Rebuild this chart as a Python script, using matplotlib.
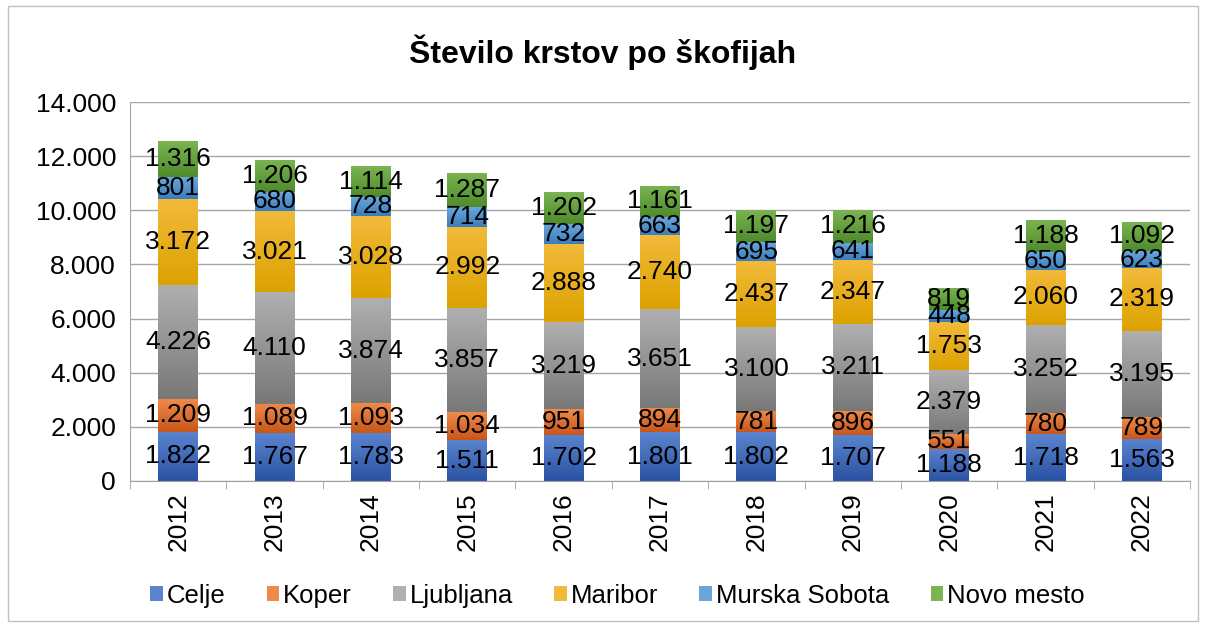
import numpy as np
import matplotlib
matplotlib.use("Agg")
import matplotlib.pyplot as plt
from matplotlib.colors import LinearSegmentedColormap
from matplotlib.patches import Rectangle

plt.rcParams['font.family'] = ['Liberation Sans', 'DejaVu Sans']

years = ["2012", "2013", "2014", "2015", "2016", "2017", "2018", "2019", "2020", "2021", "2022"]
celje = [1822, 1767, 1783, 1511, 1702, 1801, 1802, 1707, 1188, 1718, 1563]
koper = [1209, 1089, 1093, 1034, 951, 894, 781, 896, 551, 780, 789]
ljubljana = [4226, 4110, 3874, 3857, 3219, 3651, 3100, 3211, 2379, 3252, 3195]
maribor = [3172, 3021, 3028, 2992, 2888, 2740, 2437, 2347, 1753, 2060, 2319]
murska_sobota = [801, 680, 728, 714, 732, 663, 695, 641, 448, 650, 623]
novo_mesto = [1316, 1206, 1114, 1287, 1202, 1161, 1197, 1216, 819, 1188, 1092]

series_names = ["Celje", "Koper", "Ljubljana", "Maribor", "Murska Sobota", "Novo mesto"]
series = [celje, koper, ljubljana, maribor, murska_sobota, novo_mesto]
# (top colour, bottom colour) for the vertical gradient
grads = [("#5B84CF", "#2A52A3"),
         ("#EE8A4A", "#C8561A"),
         ("#B0B0B0", "#787878"),
         ("#F2BA3A", "#DDA200"),
         ("#6AA6DC", "#3A7DBD"),
         ("#7BB552", "#4F8A2C")]


def fmt(v):
    return "{:,}".format(int(v)).replace(",", ".")


fig = plt.figure(figsize=(12.06, 6.27), dpi=100)
ax = fig.add_axes([0.1078, 0.2329, 0.8790, 0.6044])

x = np.arange(len(years))
width = 0.415
bottom = np.zeros(len(years))
for name, vals, (ctop, cbot) in zip(series_names, series, grads):
    vals = np.array(vals)
    bars = ax.bar(x, vals, width, bottom=bottom, color=cbot, label=name, zorder=2)
    cmap = LinearSegmentedColormap.from_list(name, [cbot, ctop])
    grad = np.linspace(0, 1, 100).reshape(-1, 1)
    for b in bars:
        bx, by = b.get_x(), b.get_y()
        im = ax.imshow(grad, cmap=cmap, origin="lower", aspect="auto",
                       extent=[bx, bx + b.get_width(), by, by + b.get_height()], zorder=2.5)
        im.set_clip_path(b)
    for xi, v, b0 in zip(x, vals, bottom):
        ax.text(xi, b0 + v / 2, fmt(v), ha="center", va="center", fontsize=19,
                color="black", zorder=4)
    bottom = bottom + vals

ax.set_xlim(-0.5, len(years) - 0.5)
ax.set_ylim(0, 14000)
ax.set_yticks(np.arange(0, 14001, 2000))
ax.set_yticklabels([fmt(v) for v in np.arange(0, 14001, 2000)], fontsize=19)
ax.set_xticks(x)
ax.set_xticklabels(years, rotation=90, fontsize=19)
ax.tick_params(axis="x", length=0, pad=8)
ax.set_xticks(np.arange(-0.5, len(years), 1), minor=True)
ax.tick_params(axis="x", which="minor", length=6, color="#A0A0A0")
ax.tick_params(axis="y", length=0, pad=10)
ax.yaxis.grid(True, color="#A6A6A6", linewidth=1, zorder=0)
ax.set_axisbelow(True)
for s in ["top", "right"]:
    ax.spines[s].set_visible(False)
ax.spines["left"].set_color("#A6A6A6")
ax.spines["bottom"].set_color("#A0A0A0")

fig.suptitle("Število krstov po škofijah", y=0.945, fontsize=23, fontweight="bold")

handles = [Rectangle((0, 0), 1, 1, facecolor=c[0]) for c in grads]
fig.legend(handles, series_names, loc="center", bbox_to_anchor=(0.512, 0.05), ncol=6,
           frameon=False, fontsize=18.5, handlelength=0.5, handleheight=0.5,
           handletextpad=0.15, columnspacing=1.6)

fig.patches.append(Rectangle((0.007, 0.01), 0.986, 0.98, transform=fig.transFigure,
                             fill=False, edgecolor="#BFBFBF", linewidth=1))

fig.savefig("out.png", dpi=100)
